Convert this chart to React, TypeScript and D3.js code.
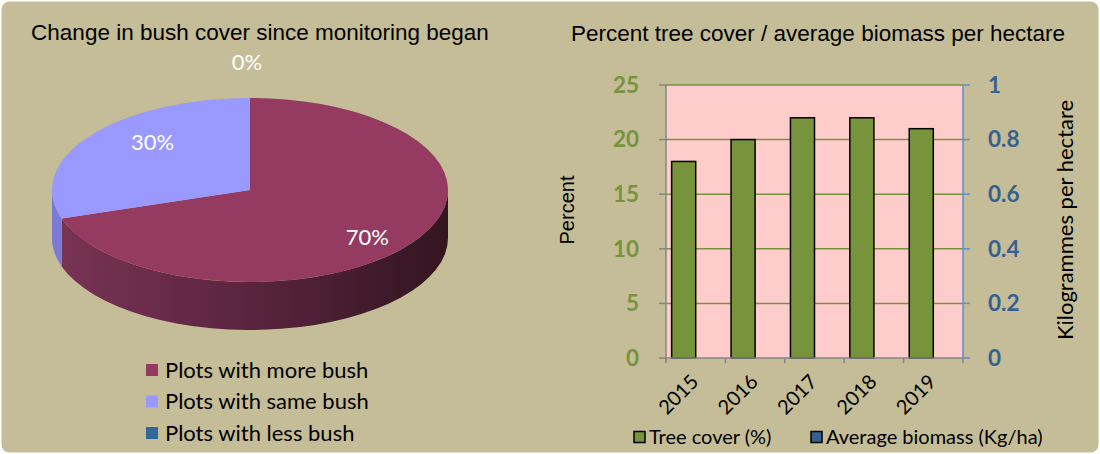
import React from 'react';
import * as d3 from 'd3';

// pie: change in bush cover
const pieLabels = ['Plots with more bush', 'Plots with same bush', 'Plots with less bush'];
const pieValues = [70, 30, 0];
const pieColors = ['#953b62', '#9999ff', '#336699'];
const pieSideColors = ['url(#sideGrad)', '#7b7bd6', '#26507a'];

// bars: tree cover / biomass
const years = ['2015', '2016', '2017', '2018', '2019'];
const treeCover = [18, 20, 22, 22, 21];
const biomass: (number | null)[] = [null, null, null, null, null];
const seriesNames = ['Tree cover (%)', 'Average biomass (Kg/ha)'];
const seriesColors = ['#77933c', '#376092'];
const leftTicks = [0, 5, 10, 15, 20, 25];
const rightTicks = [0, 0.2, 0.4, 0.6, 0.8, 1];

const W = 1100;
const H = 454;
const calibri = 'Lato, "Open Sans", sans-serif';
const arial = '"Liberation Sans", Arial, sans-serif';

const PieChart = () => {
  const cx = 250, cy = 190, rx = 198, ry = 92, depth = 48;
  const pt = (a: number, dy = 0) => [cx + rx * Math.sin(a), cy - ry * Math.cos(a) + dy];
  const arcs = d3.pie<number>().sort(null).value(d => d)(pieValues);

  const topPath = (a0: number, a1: number) => {
    const [x0, y0] = pt(a0);
    const [x1, y1] = pt(a1);
    const large = a1 - a0 > Math.PI ? 1 : 0;
    return `M${cx},${cy}L${x0},${y0}A${rx},${ry} 0 ${large} 1 ${x1},${y1}Z`;
  };
  const sidePath = (a0: number, a1: number) => {
    const s = Math.max(a0, Math.PI / 2);
    const e = Math.min(a1, (3 * Math.PI) / 2);
    if (e <= s) return null;
    const [x0, y0] = pt(s);
    const [x1, y1] = pt(e);
    return `M${x0},${y0}A${rx},${ry} 0 0 1 ${x1},${y1}L${x1},${y1 + depth}A${rx},${ry} 0 0 0 ${x0},${y0 + depth}Z`;
  };

  return (
    <g>
      <defs>
        <linearGradient id="sideGrad" x1={cx - rx} x2={cx + rx} y1={0} y2={0} gradientUnits="userSpaceOnUse">
          <stop offset="0%" stopColor="#7a3455" />
          <stop offset="50%" stopColor="#5a2440" />
          <stop offset="100%" stopColor="#33151f" />
        </linearGradient>
      </defs>
      <text x={260} y={40} textAnchor="middle" fontFamily={arial} fontSize={22.5} fill="#000">
        Change in bush cover since monitoring began
      </text>
      {arcs.map((a, i) => {
        const d = sidePath(a.startAngle, a.endAngle);
        return d ? <path key={'s' + i} d={d} fill={pieSideColors[i]} /> : null;
      })}
      {arcs.map((a, i) =>
        a.endAngle > a.startAngle ? <path key={'t' + i} d={topPath(a.startAngle, a.endAngle)} fill={pieColors[i]} /> : null
      )}
      {arcs.map((a, i) => {
        const mid = (a.startAngle + a.endAngle) / 2;
        const outside = a.value === 0;
        const fx = outside ? 1.37 : 0.67;
        const fy = outside ? 1.39 : 0.88;
        const x = cx + (outside ? -3 : 10) + rx * fx * Math.sin(mid);
        const y = cy - ry * fy * Math.cos(mid);
        return (
          <text key={'l' + i} x={x} y={y} dy="0.35em" textAnchor="middle" fontFamily={calibri} fontSize={22} fill="#fff">
            {d3.format('.0%')(a.value / 100)}
          </text>
        );
      })}
      {pieLabels.map((l, i) => (
        <g key={l} transform={`translate(146,${370 + i * 31.5})`}>
          <rect x={0} y={-6} width={12} height={12} fill={pieColors[i]} />
          <text x={19} y={0} dy="0.35em" fontFamily={calibri} fontSize={22} fill="#000">
            {l}
          </text>
        </g>
      ))}
    </g>
  );
};

const BarChart = () => {
  const left = 666, right = 963, top = 85, bottom = 358;
  const x0 = d3.scaleBand<string>().domain(years).range([left, right]);
  const x1 = d3.scaleBand<string>().domain(seriesNames).range([0, x0.bandwidth()]).paddingOuter(0.235);
  const y = d3.scaleLinear().domain([0, 25]).range([bottom, top]);
  const y2 = d3.scaleLinear().domain([0, 1]).range([bottom, top]);
  const data = [treeCover, biomass];
  const bounds = years.map(d => x0(d) as number).concat([right]);

  return (
    <g>
      <text x={818} y={41} textAnchor="middle" fontFamily={arial} fontSize={22.5} fill="#000">
        Percent tree cover / average biomass per hectare
      </text>
      <rect x={left} y={top} width={right - left} height={bottom - top} fill="#ffcccc" />
      {leftTicks.slice(1).map(t => (
        <line key={t} x1={left} x2={right} y1={y(t)} y2={y(t)} stroke="#77933c" strokeWidth={1.5} />
      ))}
      {data.map((vals, si) =>
        vals.map((v, i) =>
          v == null ? null : (
            <rect
              key={si + '-' + i}
              x={(x0(years[i]) as number) + (x1(seriesNames[si]) as number)}
              y={y(v)}
              width={x1.bandwidth()}
              height={bottom - y(v)}
              fill={seriesColors[si]}
              stroke="#000"
              strokeWidth={1.5}
            />
          )
        )
      )}
      {/* left axis */}
      <line x1={left} x2={left} y1={top} y2={bottom + 5} stroke="#868686" strokeWidth={1.5} />
      {leftTicks.map(t => (
        <g key={t}>
          <line x1={left - 7} x2={left} y1={y(t)} y2={y(t)} stroke="#868686" strokeWidth={1.5} />
          <text x={639} y={y(t)} dy="0.35em" textAnchor="end" fontFamily={calibri} fontWeight="bold" fontSize={22.5} fill="#77933c">
            {t}
          </text>
        </g>
      ))}
      {/* bottom axis */}
      <line x1={left} x2={right} y1={bottom} y2={bottom} stroke="#868686" strokeWidth={1.5} />
      {bounds.map((b, i) => (
        <line key={i} x1={b} x2={b} y1={bottom} y2={bottom + 5} stroke="#868686" strokeWidth={1.5} />
      ))}
      {years.map(yr => {
        const cx = (x0(yr) as number) + x0.bandwidth() / 2;
        return (
          <text
            key={yr}
            transform={`translate(${cx + 4},${383}) rotate(-45)`}
            textAnchor="end"
            fontFamily={calibri}
            fontSize={20}
            fill="#000"
          >
            {yr}
          </text>
        );
      })}
      {/* right axis */}
      <line x1={right} x2={right} y1={top} y2={bottom} stroke="#5b8fd6" strokeWidth={1.5} />
      {rightTicks.map(t => (
        <g key={t}>
          <line x1={right} x2={right + 7} y1={y2(t)} y2={y2(t)} stroke="#5b8fd6" strokeWidth={1.5} />
          <text x={988} y={y2(t)} dy="0.35em" textAnchor="start" fontFamily={calibri} fontWeight="bold" fontSize={22.5} fill="#376092">
            {t}
          </text>
        </g>
      ))}
      <text transform="translate(574,210) rotate(-90)" textAnchor="middle" fontFamily={arial} fontSize={20} fill="#000">
        Percent
      </text>
      <text transform="translate(1073,220) rotate(-90)" textAnchor="middle" fontFamily={calibri} fontSize={22} fill="#000">
        Kilogrammes per hectare
      </text>
      {seriesNames.map((s, i) => (
        <g key={s} transform={`translate(${i === 0 ? 634 : 811},437)`}>
          <rect x={0} y={-5.5} width={11} height={11} fill={seriesColors[i]} stroke="#000" strokeWidth={1.5} />
          <text x={15} y={0} dy="0.35em" fontFamily={calibri} fontSize={20} fill="#000">
            {s}
          </text>
        </g>
      ))}
    </g>
  );
};

export default function App() {
  return (
    <svg width={W} height={H} style={{ position: 'absolute', left: 0, top: 0, display: 'block' }}>
      <rect x={0} y={0} width={W} height={H} fill="#fff" />
      <rect x={1.5} y={1.5} width={W - 3} height={H - 3} rx={8} fill="#c4bd97" />
      <PieChart />
      <BarChart />
    </svg>
  );
}
